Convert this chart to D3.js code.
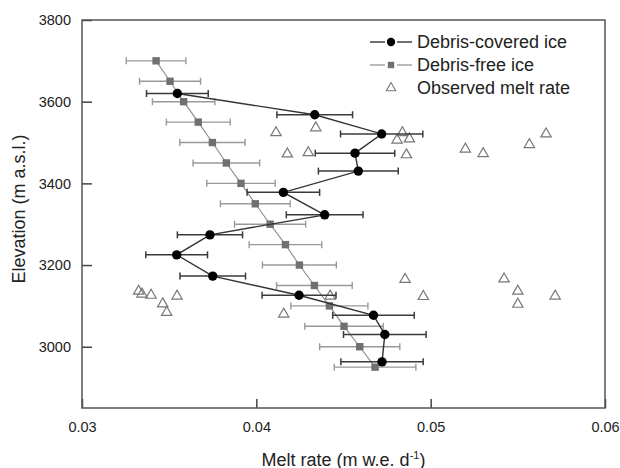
<!DOCTYPE html>
<html>
<head>
<meta charset="utf-8">
<script src="https://cdn.jsdelivr.net/npm/d3@7"></script>
<style>
  html, body { margin: 0; padding: 0; background: #fff; }
  svg { display: block; font-family: "Liberation Sans", Arial, sans-serif; }
</style>
</head>
<body>
<svg id="chart" width="620" height="468"></svg>
<script>
// ---- Data ----
const xTicks = [0.03, 0.04, 0.05, 0.06];
const yTicks = [3000, 3200, 3400, 3600, 3800];

const freeElev = [3700, 3650, 3600, 3550, 3500, 3450, 3400, 3350, 3300, 3250, 3200, 3150, 3100, 3050, 3000, 2950];
const freeMelt = [0.03425, 0.03505, 0.03583, 0.03667, 0.03748, 0.03828, 0.03912, 0.03994, 0.04079, 0.04167, 0.04247, 0.04333, 0.04419, 0.04503, 0.04593, 0.04681];
const freeErr  = [0.00171, 0.00175, 0.00179, 0.00183, 0.00187, 0.00191, 0.00196, 0.00200, 0.00204, 0.00208, 0.00212, 0.00217, 0.00221, 0.00225, 0.00230, 0.00234];

const coveredElev = [3620, 3568, 3521, 3474, 3430, 3378, 3323, 3274, 3225, 3173, 3126, 3077, 3030, 2963];
const coveredMelt = [0.03547, 0.04335, 0.04719, 0.04566, 0.04585, 0.04155, 0.04392, 0.03734, 0.03543, 0.03750, 0.04245, 0.04672, 0.04737, 0.04721];
const coveredErr  = [0.00177, 0.00217, 0.00236, 0.00228, 0.00229, 0.00208, 0.00220, 0.00187, 0.00177, 0.00188, 0.00212, 0.00234, 0.00237, 0.00236];

const obsMelt = [0.04113, 0.04341, 0.04178, 0.04298, 0.04838, 0.04807, 0.04878, 0.04861, 0.05199, 0.05301, 0.05566, 0.05662,
                 0.03325, 0.03344, 0.03396, 0.03545, 0.03463, 0.03486, 0.04157, 0.04423,
                 0.04853, 0.04958, 0.05421, 0.05500, 0.05500, 0.05714];
const obsElev = [3524, 3536, 3472, 3475, 3524, 3506, 3509, 3470, 3484, 3473, 3495, 3521,
                 3136, 3129, 3126, 3124, 3105, 3084, 3080, 3124,
                 3165, 3123, 3166, 3136, 3104, 3124];

const legendLabels = ["Debris-covered ice", "Debris-free ice", "Observed melt rate"];

// ---- Layout ----
const svg = d3.select("#chart");
const L = 82, R = 605, T = 20, B = 408;
const x = d3.scaleLinear().domain([0.03, 0.06]).range([L, R]);
const y = d3.scaleLinear().domain([2850, 3800]).range([B, T]);

const free = freeElev.map((e, i) => ({e, m: freeMelt[i], err: freeErr[i]}));
const covered = coveredElev.map((e, i) => ({e, m: coveredMelt[i], err: coveredErr[i]}));
const obs = obsElev.map((e, i) => ({e, m: obsMelt[i]}));

// Axes
const xAxis = svg.append("g").attr("transform", `translate(0,${B})`)
  .call(d3.axisBottom(x).tickValues(xTicks).tickFormat(d3.format(".2f")).tickSize(-9).tickPadding(14));
const yAxis = svg.append("g").attr("transform", `translate(${L},0)`)
  .call(d3.axisLeft(y).tickValues(yTicks).tickFormat(d3.format("d")).tickSize(-10).tickPadding(11));
[xAxis, yAxis].forEach(g => {
  g.select(".domain").remove();
  g.selectAll(".tick line").attr("stroke", "#444").attr("stroke-width", 1.5);
  g.selectAll(".tick text").attr("fill", "#222").style("font-size", "14.5px")
    .style("font-family", "'Liberation Sans', Arial, sans-serif");
});

// Frame
svg.append("rect").attr("x", L).attr("y", T).attr("width", R - L).attr("height", B - T)
  .attr("fill", "none").attr("stroke", "#555").attr("stroke-width", 1.5);

// Observed triangles
const tri = d3.symbol().type(d3.symbolTriangle).size(46);
svg.append("g").selectAll("path").data(obs).join("path")
  .attr("d", tri)
  .attr("transform", d => `translate(${x(d.m)},${y(d.e)})`)
  .attr("fill", "none").attr("stroke", "#777").attr("stroke-width", 1.2);

function drawSeries(data, opt) {
  const g = svg.append("g");
  g.append("path").datum(data)
    .attr("d", d3.line().x(d => x(d.m)).y(d => y(d.e)))
    .attr("fill", "none").attr("stroke", opt.lineColor).attr("stroke-width", opt.lineWidth);
  const eb = g.append("g").attr("stroke", opt.barColor).attr("stroke-width", opt.barWidth);
  eb.selectAll("line.h").data(data).join("line").attr("class", "h")
    .attr("x1", d => x(d.m - d.err)).attr("x2", d => x(d.m + d.err))
    .attr("y1", d => y(d.e)).attr("y2", d => y(d.e));
  eb.selectAll("line.cl").data(data).join("line").attr("class", "cl")
    .attr("x1", d => x(d.m - d.err)).attr("x2", d => x(d.m - d.err))
    .attr("y1", d => y(d.e) - 3.5).attr("y2", d => y(d.e) + 3.5);
  eb.selectAll("line.cr").data(data).join("line").attr("class", "cr")
    .attr("x1", d => x(d.m + d.err)).attr("x2", d => x(d.m + d.err))
    .attr("y1", d => y(d.e) - 3.5).attr("y2", d => y(d.e) + 3.5);
  return g;
}

// Debris-free ice (grey squares)
const gf = drawSeries(free, {lineColor: "#8a8a8a", lineWidth: 1.1, barColor: "#999", barWidth: 1.4});
gf.selectAll("rect.m").data(free).join("rect").attr("class", "m")
  .attr("x", d => x(d.m) - 3.7).attr("y", d => y(d.e) - 3.7)
  .attr("width", 7.4).attr("height", 7.4).attr("fill", "#707070");

// Debris-covered ice (black circles)
const gc = drawSeries(covered, {lineColor: "#333", lineWidth: 1.4, barColor: "#3a3a3a", barWidth: 1.5});
gc.selectAll("circle.m").data(covered).join("circle").attr("class", "m")
  .attr("cx", d => x(d.m)).attr("cy", d => y(d.e)).attr("r", 4.7).attr("fill", "#000");

// Legend
const lg = svg.append("g");
const rowsY = [42, 65, 88];
const lx0 = 370, lmx = 391, lx1 = 412, ltx = 417;
// row 1
lg.append("line").attr("x1", lx0).attr("x2", lmx - 6).attr("y1", rowsY[0]).attr("y2", rowsY[0]).attr("stroke", "#333").attr("stroke-width", 1.4);
lg.append("line").attr("x1", lmx + 6).attr("x2", lx1).attr("y1", rowsY[0]).attr("y2", rowsY[0]).attr("stroke", "#333").attr("stroke-width", 1.4);
lg.append("circle").attr("cx", lmx).attr("cy", rowsY[0]).attr("r", 4.2).attr("fill", "#000");
// row 2
lg.append("line").attr("x1", lx0).attr("x2", lmx - 6).attr("y1", rowsY[1]).attr("y2", rowsY[1]).attr("stroke", "#8a8a8a").attr("stroke-width", 1.2);
lg.append("line").attr("x1", lmx + 6).attr("x2", lx1).attr("y1", rowsY[1]).attr("y2", rowsY[1]).attr("stroke", "#8a8a8a").attr("stroke-width", 1.2);
lg.append("rect").attr("x", lmx - 3.2).attr("y", rowsY[1] - 3.2).attr("width", 6.4).attr("height", 6.4).attr("fill", "#707070");
// row 3
lg.append("path").attr("d", d3.symbol().type(d3.symbolTriangle).size(38))
  .attr("transform", `translate(${lmx},${rowsY[2]})`)
  .attr("fill", "none").attr("stroke", "#777").attr("stroke-width", 1.1);
lg.selectAll("text").data(legendLabels).join("text")
  .attr("x", ltx).attr("y", (d, i) => rowsY[i] + 6.3)
  .attr("fill", "#222").style("font-size", "18px").text(d => d);

// Axis titles
const xt = svg.append("text").attr("x", (L + R) / 2).attr("y", 465.5)
  .attr("text-anchor", "middle").attr("fill", "#222").style("font-size", "18px");
xt.append("tspan").text("Melt rate (m w.e. d");
xt.append("tspan").attr("dy", -7).style("font-size", "11px").text("-1");
xt.append("tspan").attr("dy", 7).text(")");

svg.append("text").attr("transform", `translate(24.5,209) rotate(-90)`)
  .attr("text-anchor", "middle").attr("fill", "#222").style("font-size", "18px")
  .text("Elevation (m a.s.l.)");
</script>
</body>
</html>
